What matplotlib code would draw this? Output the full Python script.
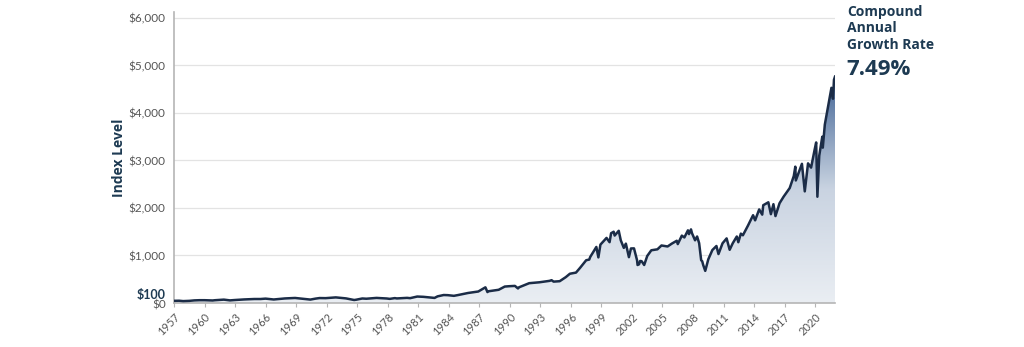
import matplotlib
matplotlib.use("Agg")
import matplotlib.pyplot as plt
import numpy as np
from matplotlib.colors import LinearSegmentedColormap
from matplotlib.transforms import ScaledTranslation

plt.rcParams['font.family'] = ['Lato', 'DejaVu Sans']

# Data: (decimal year, index level)
years = [1957.0, 1957.5, 1957.9, 1958.5, 1959.0, 1959.5, 1960.0, 1960.8, 1961.0, 1961.9,
         1962.5, 1963.0, 1963.9, 1964.9, 1965.5, 1966.0, 1966.8, 1967.9, 1968.9, 1969.5,
         1970.4, 1970.9, 1971.3, 1971.9, 1972.9, 1973.9, 1974.7, 1974.9, 1975.5, 1975.9,
         1976.9, 1977.9, 1978.2, 1978.7, 1978.9, 1979.9, 1980.2, 1980.9, 1981.5, 1982.6,
         1982.9, 1983.5, 1983.9, 1984.5, 1984.9, 1985.9, 1986.9, 1987.6, 1987.8, 1987.9,
         1988.9, 1989.5, 1989.9, 1990.5, 1990.8, 1990.9, 1991.9, 1992.9, 1993.9, 1994.1,
         1994.3, 1994.9, 1995.5, 1995.9, 1996.5, 1996.9, 1997.5, 1997.8, 1997.9, 1998.5,
         1998.7, 1998.9, 1999.5, 1999.8, 1999.95, 2000.2, 2000.3, 2000.7, 2000.9, 2001.2,
         2001.4, 2001.7, 2001.9, 2002.2, 2002.5, 2002.55, 2002.7, 2002.8, 2002.95, 2003.2,
         2003.5, 2003.9, 2004.5, 2004.9, 2005.5, 2005.9, 2006.4, 2006.5, 2006.9, 2007.15,
         2007.5, 2007.6, 2007.8, 2007.9, 2008.2, 2008.4, 2008.6, 2008.8, 2008.9, 2009.0,
         2009.2, 2009.5, 2009.9, 2010.3, 2010.5, 2010.9, 2011.3, 2011.6, 2011.9, 2012.3,
         2012.45, 2012.7, 2012.9, 2013.4, 2013.9, 2014.1, 2014.5, 2014.8, 2014.9, 2015.4,
         2015.65, 2015.9, 2016.1, 2016.5, 2016.9, 2017.5, 2017.9, 2018.05, 2018.1, 2018.7,
         2018.98, 2019.3, 2019.6, 2019.95, 2020.1, 2020.22, 2020.4, 2020.7, 2020.75, 2020.95,
         2021.3, 2021.6, 2021.75, 2021.85, 2021.95]
levels = [46, 48, 40, 45, 55, 59, 59, 53, 58, 71,
          55, 63, 75, 84, 84, 92, 74, 96, 106, 92,
          72, 92, 104, 102, 118, 97, 63, 69, 95, 90,
          107, 95, 87, 103, 96, 108, 102, 136, 130, 107,
          140, 168, 165, 151, 167, 211, 242, 330, 230, 247,
          278, 346, 353, 360, 306, 330, 417, 436, 466, 480,
          450, 459, 545, 616, 640, 740, 900, 914, 970, 1180,
          960, 1229, 1370, 1280, 1469, 1500, 1420, 1520, 1320, 1160,
          1250, 965, 1148, 1150, 900, 800, 815, 885, 880, 800,
          990, 1110, 1130, 1211, 1190, 1248, 1310, 1240, 1418, 1380,
          1530, 1450, 1550, 1468, 1320, 1400, 1260, 900, 880, 800,
          676, 920, 1115, 1200, 1030, 1257, 1360, 1120, 1257, 1400,
          1280, 1460, 1426, 1630, 1848, 1740, 1970, 1860, 2059, 2120,
          1870, 2080, 1830, 2100, 2238, 2420, 2673, 2870, 2580, 2930,
          2350, 2940, 2850, 3230, 3380, 2237, 3100, 3500, 3270, 3756,
          4180, 4530, 4300, 4700, 4766]

xtick_years = list(range(1957, 2021, 3))
ytick_vals = [0, 100, 1000, 2000, 3000, 4000, 5000, 6000]
ytick_labels = ['$0', '$100', '$1,000', '$2,000', '$3,000', '$4,000', '$5,000', '$6,000']

x = np.array(years)
y = np.array(levels)

fig = plt.figure(figsize=(10.24, 3.47), dpi=100)
ax = fig.add_axes([174/1024, 1 - 303/347, (835-174)/1024, (303-12)/347])

ax.set_xlim(1957, 2021.95)
ax.set_ylim(0, 6126)

# gradient fill under curve
cmap = LinearSegmentedColormap.from_list('g', ['#eaeef3', '#c9d3e1', '#3f6294'])
poly = ax.fill_between(x, 0, y, color='none', zorder=1)
grad = np.linspace(0, 1, 256).reshape(-1, 1)
im = ax.imshow(grad, cmap=cmap, origin='lower', aspect='auto',
               extent=[1957, 2021.95, 0, 4800], zorder=1)
path = poly.get_paths()[0]
im.set_clip_path(path, transform=ax.transData)
ax.plot(x, y, color='#1b2c47', lw=1.8, zorder=3, solid_joinstyle='round')

# grid
for v in [1000, 2000, 3000, 4000, 5000, 6000]:
    ax.axhline(v, color='#e3e3e3', lw=0.9, zorder=0)

for s in ['top', 'right']:
    ax.spines[s].set_visible(False)
ax.spines['left'].set_color('#b5b5b5')
ax.spines['bottom'].set_color('#b5b5b5')
ax.spines['left'].set_linewidth(1.2)
ax.spines['bottom'].set_linewidth(1.2)

ax.set_xticks(xtick_years)
ax.set_xticklabels([str(v) for v in xtick_years], rotation=45, ha='right',
                   rotation_mode='anchor', fontsize=8, color='#555555')
ax.tick_params(axis='x', length=3, color='#b5b5b5', pad=3)

ax.set_yticks(ytick_vals)
ax.set_yticklabels(ytick_labels, fontsize=8.5, color='#555555')
ax.tick_params(axis='y', length=0, pad=6)
for lbl in ax.get_yticklabels():
    if lbl.get_text() == '$100':
        lbl.set_color('#1d3a52')
        lbl.set_fontweight('bold')
        lbl.set_fontsize(9)
        lbl.set_transform(lbl.get_transform() + ScaledTranslation(0, 4/100, fig.dpi_scale_trans))
    if lbl.get_text() == '$0':
        lbl.set_transform(lbl.get_transform() + ScaledTranslation(0, -1/100, fig.dpi_scale_trans))

ax.set_ylabel('Index Level', fontsize=10, fontweight='bold', color='#1d3a52', labelpad=2,
              family=['Open Sans', 'DejaVu Sans'])

fig.text(847/1024, 1 - 5/347, 'Compound\nAnnual\nGrowth Rate', fontsize=10, fontweight='bold',
         color='#1d3a52', va='top', ha='left', linespacing=1.22,
         family=['Open Sans', 'DejaVu Sans'])
fig.text(846/1024, 1 - 80/347, '7.49%', fontsize=16, fontweight='bold',
         color='#1d3a52', va='bottom', ha='left', family=['Open Sans', 'DejaVu Sans'])

fig.savefig('out.png', dpi=100)
